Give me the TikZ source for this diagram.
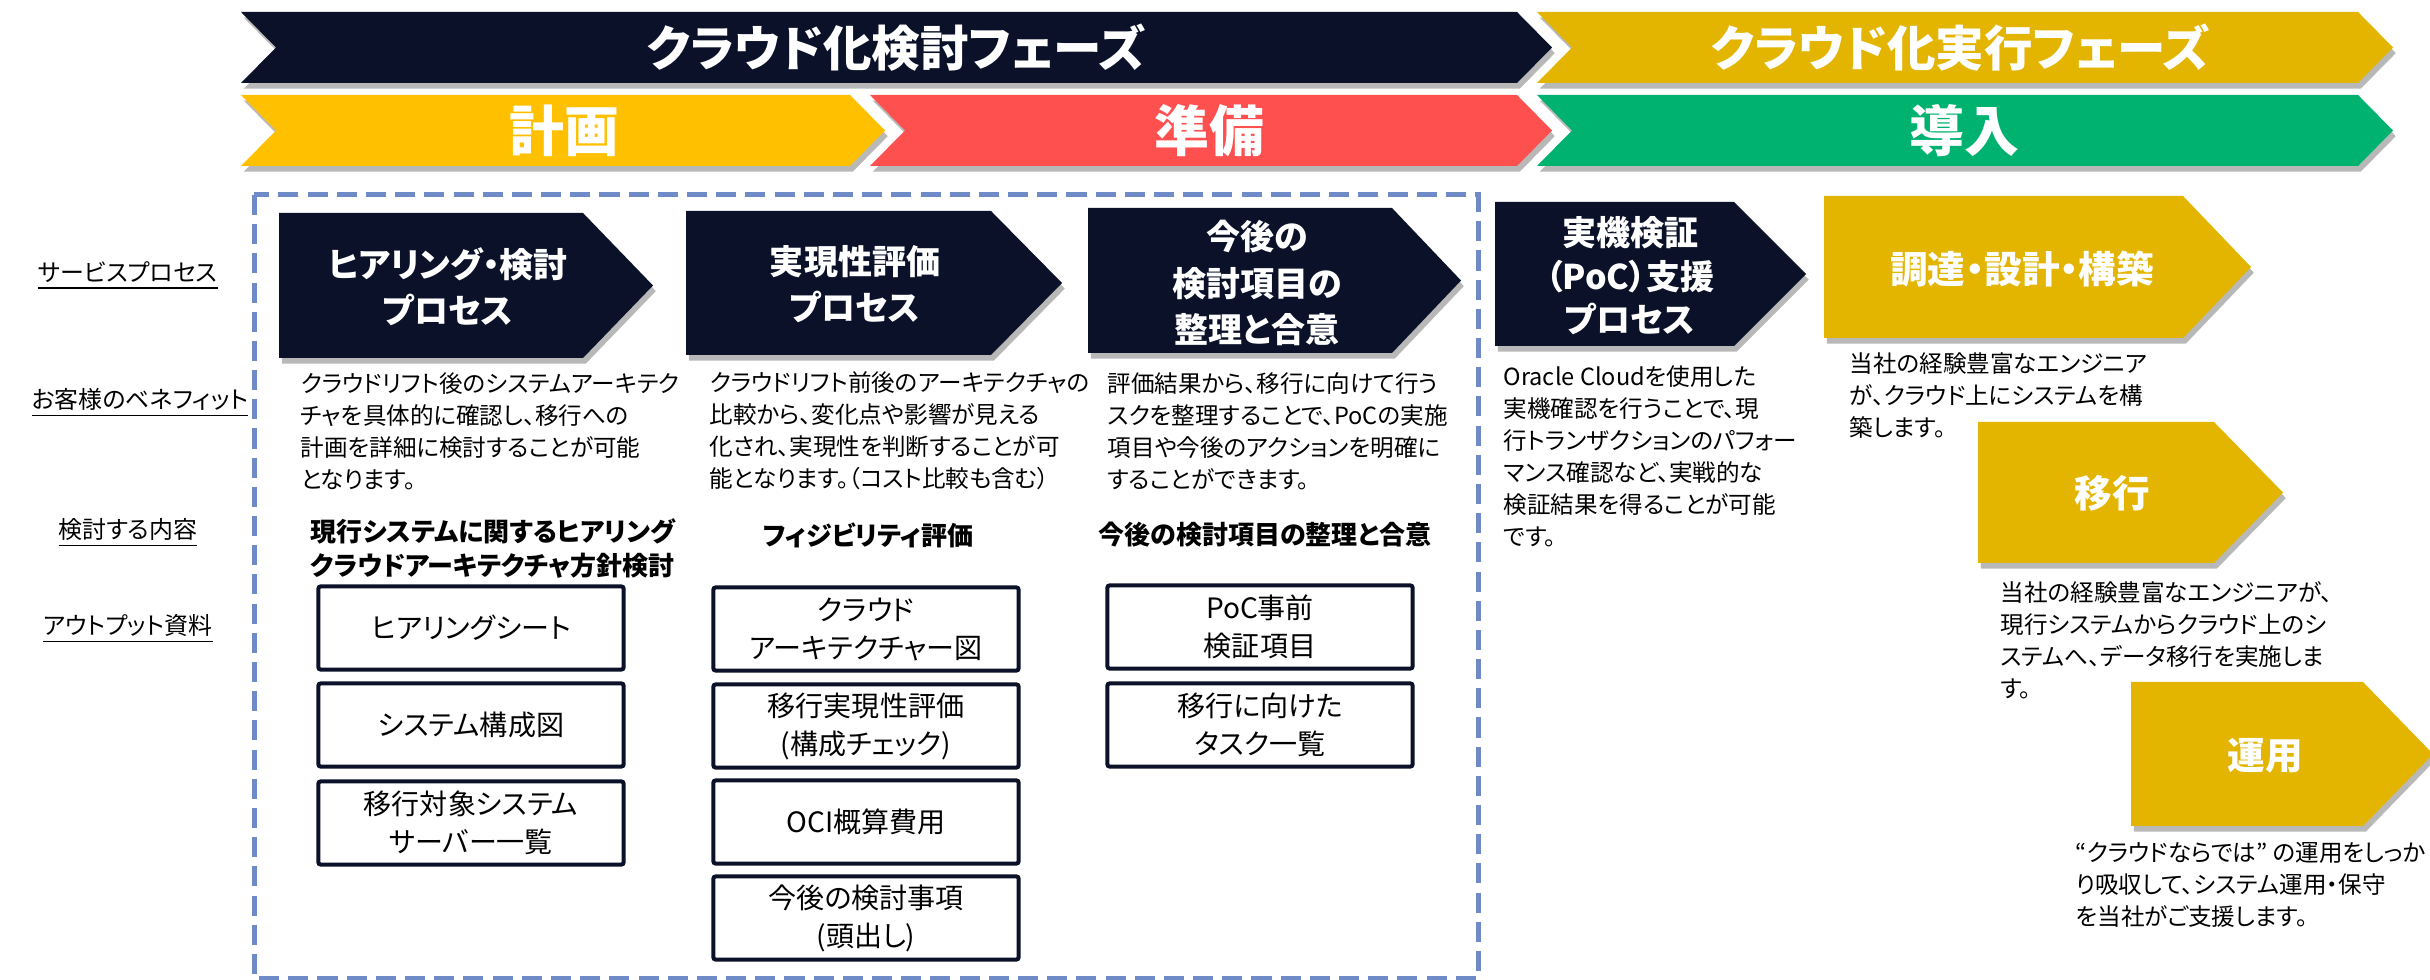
\documentclass[tikz,border=0pt]{standalone}
\usepackage{fontspec}
\setmainfont{Noto Sans CJK JP}[RawFeature=+palt]
\usetikzlibrary{shadows}
\definecolor{navy}{HTML}{0B1128}
\definecolor{dgold}{HTML}{E3B500}
\definecolor{lgold}{HTML}{FFC000}
\definecolor{pred}{HTML}{FF5050}
\definecolor{pgreen}{HTML}{00B26F}
\definecolor{dashblue}{HTML}{6E8BC7}
\newcommand\chevron[6]{%
  \fill[#1] (#2,#3) -- (#4,#3) -- ({#4+#6},{(#3+#5)/2}) -- (#4,#5) -- (#2,#5) -- cycle;}
\newcommand\bannershape[6]{%
  \fill[#1] (#2,#3) -- (#4,#3) -- ({#4+#6},{(#3+#5)/2}) -- (#4,#5) -- (#2,#5) -- ({#2+#6},{(#3+#5)/2}) -- cycle;}
\tikzset{
  shad/.style={drop shadow={shadow xshift=0.8pt, shadow yshift=-1.6pt, opacity=0.28, fill=black}},
  bannertext/.style={text=white, inner sep=0pt, font=\bfseries\fontsize{13.8}{16}\selectfont},
  phasetext/.style={text=white, inner sep=0pt, font=\bfseries\fontsize{15.6}{18}\selectfont},
  proctext/.style={text=white, inner sep=0pt, align=center, font=\bfseries\fontsize{9.67}{13.09}\selectfont},
  goldtext/.style={text=white, inner sep=0pt, align=center, font=\bfseries\fontsize{10.7}{13}\selectfont},
  bodytext/.style={text=black, inner sep=0pt, align=left, anchor=west, font=\fontsize{6.7}{9.1}\selectfont},
  rowlabel/.style={text=black, inner sep=0pt, font=\fontsize{6.8}{8}\selectfont},
  contenttext/.style={text=black, inner sep=0pt, font=\bfseries\fontsize{7.4}{9.67}\selectfont},
  outbox/.style={draw=navy, line width=1.14pt, fill=white, rounded corners=0.6pt, align=center,
    minimum width=3.05cm, minimum height=0.83cm, inner sep=0pt, font=\fontsize{7.97}{10.81}\selectfont},
}
\begin{document}
\begin{tikzpicture}[x=0.01cm, y=-0.01cm]
\useasboundingbox (0,0) rectangle (2430,980);
% phase banners
\bannershape{navy, shad}{241}{12}{1517}{83}{35}
\bannershape{dgold, shad}{1537}{12}{2358}{83}{35}
\bannershape{lgold, shad}{241}{95}{850}{166}{35}
\bannershape{pred, shad}{870}{95}{1517}{166}{35}
\bannershape{pgreen, shad}{1537}{95}{2358}{166}{35}
\node[bannertext] (ph1) at (896,48) {クラウド化検討フェーズ};
\node[bannertext] (ph2) at (1960,48) {クラウド化実行フェーズ};
\node[phasetext] (st1) at (564,131) {計画};
\node[phasetext] (st2) at (1209,131) {準備};
\node[phasetext] (st3) at (1964,131) {導入};
% dashed frame
\draw[dashblue, line width=1.42pt, dash pattern=on 5.7pt off 2.6pt] (254,195) rectangle (1478,978);
% row labels
\node[rowlabel] (l1) at (128,276) {\underline{サービスプロセス}};
\node[rowlabel] (l2) at (140,403) {\underline{お客様のベネフィット}};
\node[rowlabel] (l3) at (128,533) {\underline{検討する内容}};
\node[rowlabel] (l4) at (128,629) {\underline{アウトプット資料}};
% process chevrons
\chevron{navy, shad}{279}{213}{583}{358}{70}
\chevron{navy, shad}{686}{211}{991}{355}{71}
\chevron{navy, shad}{1088}{208}{1392}{353}{69}
\chevron{navy, shad}{1495}{202}{1734}{346}{72}
\chevron{dgold, shad}{1824}{196}{2183}{338}{68}
\chevron{dgold, shad}{1978}{422}{2214}{563}{69}
\chevron{dgold, shad}{2131}{682}{2363}{826}{70}
\node[proctext] (p1) at (448,287) {ヒアリング・検討\\プロセス};
\node[proctext] (p2) at (855,284) {実現性評価\\プロセス};
\node[proctext] (p3) at (1257,283) {今後の\\検討項目の\\整理と合意};
\node[proctext, font=\bfseries\fontsize{9.67}{12.38}\selectfont] (p4) at (1630,276) {実機検証\\（PoC）支援\\プロセス};
\node[goldtext] (g1) at (2022,269) {調達・設計・構築};
\node[goldtext] (g2) at (2112,493) {移行};
\node[goldtext] (g3) at (2265,756) {運用};
% benefit texts
\node[bodytext] (b1) at (300,431) {クラウドリフト後のシステムアーキテク\\チャを具体的に確認し、移行への\\計画を詳細に検討することが可能\\となります。};
\node[bodytext] (b2) at (709,431) {クラウドリフト前後のアーキテクチャの\\比較から、変化点や影響が見える\\化され、実現性を判断することが可\\能となります。（コスト比較も含む）};
\node[bodytext] (b3) at (1107,431) {評価結果から、移行に向けて行う\\スクを整理することで、PoCの実施\\項目や今後のアクションを明確に\\することができます。};
\node[bodytext] (b4) at (1503,456) {Oracle Cloudを使用した\\実機確認を行うことで、現\\行トランザクションのパフォー\\マンス確認など、実戦的な\\検証結果を得ることが可能\\です。};
\node[bodytext] (b5) at (1849,396) {当社の経験豊富なエンジニア\\が、クラウド上にシステムを構\\築します。};
\node[bodytext] (b6) at (2000,640) {当社の経験豊富なエンジニアが、\\現行システムからクラウド上のシ\\ステムへ、データ移行を実施しま\\す。};
\node[bodytext] (b7) at (2075,885) {“クラウドならでは” の運用をしっか\\り吸収して、システム運用・保守\\を当社がご支援します。};
% content labels
\node[contenttext, align=left, anchor=west] (c1) at (310,549) {現行システムに関するヒアリング\\クラウドアーキテクチャ方針検討};
\node[contenttext] (c2) at (868,535) {フィジビリティ評価};
\node[contenttext] (c3) at (1265,535) {今後の検討項目の整理と合意};
% output boxes
\node[outbox] (o11) at (471,628) {ヒアリングシート};
\node[outbox] (o12) at (471,725) {システム構成図};
\node[outbox] (o13) at (471,823) {移行対象システム\\サーバー一覧};
\node[outbox] (o21) at (866,629) {クラウド\\アーキテクチャー図};
\node[outbox] (o22) at (866,726) {移行実現性評価\\(構成チェック)};
\node[outbox] (o23) at (866,822) {OCI概算費用};
\node[outbox] (o24) at (866,918) {今後の検討事項\\(頭出し)};
\node[outbox] (o31) at (1260,627) {PoC事前\\検証項目};
\node[outbox] (o32) at (1260,725) {移行に向けた\\タスク一覧};
\end{tikzpicture}
\end{document}
